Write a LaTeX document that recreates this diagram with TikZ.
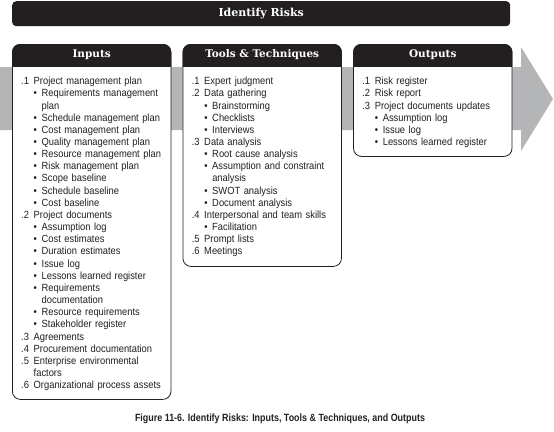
\documentclass[tikz,border=0pt]{standalone}
\usepackage{fontspec}
\setmainfont{Liberation Sans}[FakeStretch=0.9]
\newfontfamily\headfont{DejaVu Serif}
\newfontfamily\capfont{Liberation Sans}[FakeStretch=0.85]
\usepackage{tikz}
\usetikzlibrary{positioning}

\definecolor{headblack}{HTML}{231F20}
\definecolor{flowgray}{HTML}{B4B5B7}

% list lines: numbered, bulleted, continued
\newcommand{\nitem}[2]{\noindent\makebox[12.5pt][l]{#1}#2\par}
\newcommand{\bitem}[1]{\noindent\hspace*{12.5pt}\makebox[8pt][l]{\textbullet}#1\par}
\newcommand{\citem}[2][20.5pt]{\noindent\hspace*{#1}#2\par}

\begin{document}
\begin{tikzpicture}[x=1pt,y=-1pt,
  panel/.style={rectangle, draw=headblack, fill=white, line width=0.8pt,
    rounded corners=8pt, minimum width=158.5pt, inner sep=0pt},
  headtext/.style={text=white, font=\headfont\bfseries\fontsize{10.5}{12}\selectfont},
  titlebar/.style={rectangle, fill=headblack, rounded corners=4pt, text=white,
    minimum width=498pt, minimum height=25pt,
    font=\headfont\bfseries\fontsize{11}{13}\selectfont},
  listtext/.style={anchor=north west, inner sep=0pt, text width=150pt, align=left,
    text=headblack, font=\fontsize{10.4}{12.16}\selectfont},
  caption/.style={text=headblack, font=\capfont\bfseries\fontsize{10.5}{12}\selectfont}]
  \useasboundingbox (0,0) rectangle (554,431);

  % gray flow arrow behind the panels
  \fill[flowgray] (0,67) -- (521,67) -- (521,47) -- (553,99) -- (521,151)
    -- (521,130) -- (0,130) -- cycle;

  \node[titlebar, anchor=north west] (title) at (12,1) {Identify Risks};

  \node[panel, minimum height=355pt, anchor=north west] (inputs) at (12,44) {};
  \node[panel, minimum height=222pt, right=11.25pt of inputs.north east, anchor=north west] (tools) {};
  \node[panel, minimum height=112pt, right=11.25pt of tools.north east, anchor=north west] (outputs) {};

  \foreach \p/\h in {inputs/Inputs, tools/Tools \& Techniques, outputs/Outputs} {
    \begin{scope}
      \clip (\p.north west) rectangle ([yshift=-22pt]\p.north east);
      \fill[headblack, rounded corners=8pt] (\p.north west) rectangle (\p.south east);
    \end{scope}
    \node[headtext] (\p-head) at ([yshift=-11pt]\p.north) {\h};
  }

  \node[listtext] (inputs-list) at ([xshift=9pt,yshift=-32pt]inputs.north west) {\strut
    \nitem{.1}{Project management plan}
    \bitem{Requirements management}
    \citem{plan}
    \bitem{Schedule management plan}
    \bitem{Cost management plan}
    \bitem{Quality management plan}
    \bitem{Resource management plan}
    \bitem{Risk management plan}
    \bitem{Scope baseline}
    \bitem{Schedule baseline}
    \bitem{Cost baseline}
    \nitem{.2}{Project documents}
    \bitem{Assumption log}
    \bitem{Cost estimates}
    \bitem{Duration estimates}
    \bitem{Issue log}
    \bitem{Lessons learned register}
    \bitem{Requirements}
    \citem{documentation}
    \bitem{Resource requirements}
    \bitem{Stakeholder register}
    \nitem{.3}{Agreements}
    \nitem{.4}{Procurement documentation}
    \nitem{.5}{Enterprise environmental}
    \citem[12.5pt]{factors}
    \nitem{.6}{Organizational process assets}};

  \node[listtext] (tools-list) at ([xshift=9pt,yshift=-32pt]tools.north west) {\strut
    \nitem{.1}{Expert judgment}
    \nitem{.2}{Data gathering}
    \bitem{Brainstorming}
    \bitem{Checklists}
    \bitem{Interviews}
    \nitem{.3}{Data analysis}
    \bitem{Root cause analysis}
    \bitem{Assumption and constraint}
    \citem{analysis}
    \bitem{SWOT analysis}
    \bitem{Document analysis}
    \nitem{.4}{Interpersonal and team skills}
    \bitem{Facilitation}
    \nitem{.5}{Prompt lists}
    \nitem{.6}{Meetings}};

  \node[listtext] (outputs-list) at ([xshift=9pt,yshift=-32pt]outputs.north west) {\strut
    \nitem{.1}{Risk register}
    \nitem{.2}{Risk report}
    \nitem{.3}{Project documents updates}
    \bitem{Assumption log}
    \bitem{Issue log}
    \bitem{Lessons learned register}};

  \node[caption] (caption) at (280,419) {Figure 11-6. Identify Risks: Inputs, Tools \& Techniques, and Outputs};
\end{tikzpicture}
\end{document}
